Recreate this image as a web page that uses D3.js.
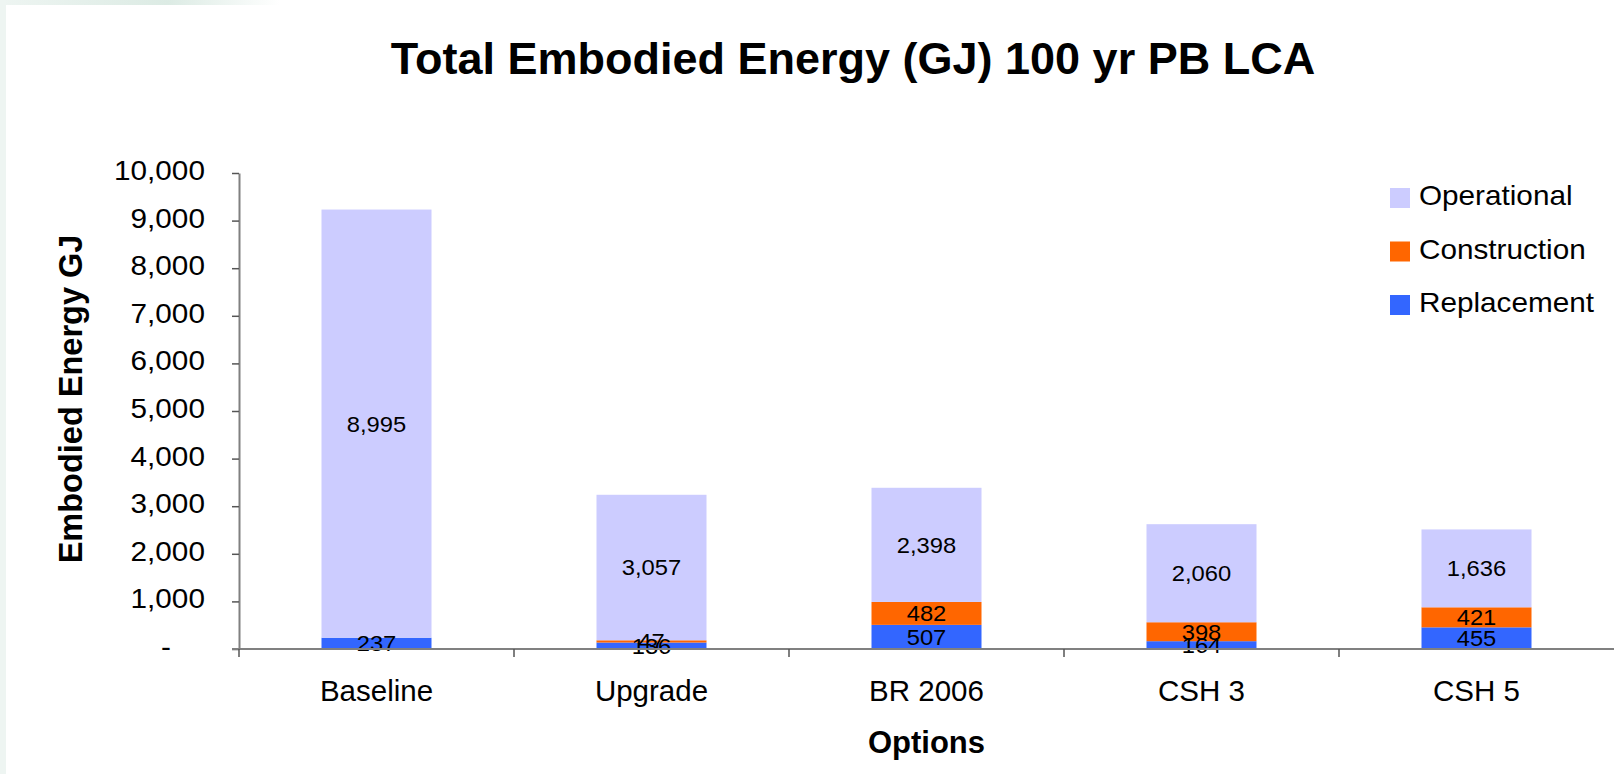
<!DOCTYPE html>
<html>
<head>
<meta charset="utf-8">
<script src="https://cdn.jsdelivr.net/npm/d3@7"></script>
<style>
  body { margin: 0; background: #ffffff; }
  text { font-family: Arial, "Liberation Sans", sans-serif; fill: #000; }
</style>
</head>
<body>
<div id="canvas"></div>
<script>
"use strict"

// chart values
let categories = ["Baseline", "Upgrade", "BR 2006", "CSH 3", "CSH 5"]
let replacement = [237, 136, 507, 164, 455]
let construction = [0, 47, 482, 398, 421]
let operational = [8995, 3057, 2398, 2060, 1636]
let seriesNames = ["Replacement", "Construction", "Operational"]
let seriesColors = ["#3366FF", "#FF6600", "#CCCCFF"]
let yTicks = [0, 1000, 2000, 3000, 4000, 5000, 6000, 7000, 8000, 9000, 10000]

let chartWidth = 1614
let chartHeight = 774

let drawing = d3.select("#canvas")
    .append("svg")
    .attr("width", chartWidth)
    .attr("height", chartHeight)

// faint slide background at the left and top edges
let grad = drawing.append("defs").append("linearGradient")
    .attr("id", "topFade")
grad.append("stop").attr("offset", "0%").attr("stop-color", "#eef5f2")
grad.append("stop").attr("offset", "60%").attr("stop-color", "#dcebe4")
grad.append("stop").attr("offset", "100%").attr("stop-color", "#ffffff")

drawing.append("rect")
    .attr("x", 0).attr("y", 0)
    .attr("width", 280).attr("height", 5)
    .attr("fill", "url(#topFade)")

drawing.append("rect")
    .attr("x", 0).attr("y", 0)
    .attr("width", 6).attr("height", chartHeight)
    .attr("fill", "#eef5f2")

// plot area
let plotLeft = 239, plotRight = 1614, plotTop = 173, plotBottom = 649

let x = d3.scaleBand()
    .domain(categories)
    .range([plotLeft, plotRight])
    .paddingInner(0.6)
    .paddingOuter(0.3)

let y = d3.scaleLinear()
    .domain([0, 10000])
    .range([plotBottom, plotTop])

// build a table for the stack
let table = categories.map((c, i) => ({
    category: c,
    Replacement: replacement[i],
    Construction: construction[i],
    Operational: operational[i]
}))

let stacked = d3.stack().keys(seriesNames)(table)

let color = d3.scaleOrdinal()
    .domain(seriesNames)
    .range(seriesColors)

// bars
let layers = drawing.append("g")
    .selectAll("g")
    .data(stacked)
    .join("g")
    .attr("fill", d => color(d.key))

layers.selectAll("rect")
    .data(d => d)
    .join("rect")
    .attr("x", d => x(d.data.category))
    .attr("y", d => y(d[1]))
    .attr("width", x.bandwidth())
    .attr("height", d => y(d[0]) - y(d[1]))

// data labels in the middle of each segment (they overlap in the original too)
let fmt = d3.format(",")

let labelLayer = drawing.append("g")

labelLayer.selectAll("text")
    .data(stacked.flatMap(s => s.filter(p => p[1] - p[0] > 0)))
    .join("text")
    .attr("text-anchor", "middle")
    .attr("dy", "0.36em")
    .attr("font-size", 22)
    .attr("transform", d => "translate(" + (x(d.data.category) + x.bandwidth() / 2) + "," + y((d[0] + d[1]) / 2) + ") scale(1.08,1)")
    .text(d => fmt(d[1] - d[0]))

// y axis
let yAxis = drawing.append("g")
    .attr("transform", "translate(" + plotLeft + ",0)")
    .call(d3.axisLeft(y)
        .tickValues(yTicks)
        .tickSize(7)
        .tickSizeOuter(0)
        .tickFormat(d => d === 0 ? "-" : fmt(d)))

yAxis.select(".domain")
    .attr("stroke", "#808080")
    .attr("stroke-width", 2)
yAxis.selectAll(".tick line")
    .attr("stroke", "#555")
    .attr("stroke-width", 1.5)
yAxis.selectAll(".tick text")
    .attr("font-size", 27)
    .attr("font-family", "Arial, 'Liberation Sans', sans-serif")
    .attr("fill", "#000")
    .attr("x", d => d === 0 ? -62 : -31)
    .attr("dy", "0.24em")
    .attr("transform", "scale(1.1,1)")

// x axis: line, ticks between categories, labels under bars
let xAxis = drawing.append("g")

xAxis.append("line")
    .attr("x1", plotLeft - 7)
    .attr("x2", plotRight)
    .attr("y1", plotBottom)
    .attr("y2", plotBottom)
    .attr("stroke", "#808080")
    .attr("stroke-width", 2)

let step = x.step()
let boundaries = categories.map(c => x(c) - step * 0.3)

xAxis.selectAll(".sep")
    .data(boundaries)
    .join("line")
    .attr("class", "sep")
    .attr("x1", d => d)
    .attr("x2", d => d)
    .attr("y1", plotBottom)
    .attr("y2", plotBottom + 8)
    .attr("stroke", "#555")
    .attr("stroke-width", 1.5)

xAxis.selectAll(".catLabel")
    .data(categories)
    .join("text")
    .attr("class", "catLabel")
    .attr("x", d => x(d) + x.bandwidth() / 2)
    .attr("y", 701)
    .attr("text-anchor", "middle")
    .attr("font-size", 29.5)
    .text(d => d)

// titles
drawing.append("text")
    .attr("x", 853)
    .attr("y", 74)
    .attr("text-anchor", "middle")
    .attr("font-size", 45)
    .attr("font-weight", "bold")
    .text("Total Embodied Energy (GJ) 100 yr PB LCA")

drawing.append("text")
    .attr("x", (plotLeft + plotRight) / 2)
    .attr("y", 753)
    .attr("text-anchor", "middle")
    .attr("font-size", 31)
    .attr("font-weight", "bold")
    .text("Options")

drawing.append("text")
    .attr("transform", "translate(82,399) rotate(-90)")
    .attr("text-anchor", "middle")
    .attr("font-size", 32.5)
    .attr("font-weight", "bold")
    .text("Embodied Energy GJ")

// legend, Operational on top like the reference
let legendItems = seriesNames.slice().reverse()

let legend = drawing.append("g")
    .selectAll("g")
    .data(legendItems)
    .join("g")
    .attr("transform", (d, i) => "translate(1390," + (188 + i * 53.5) + ")")

legend.append("rect")
    .attr("width", 20)
    .attr("height", 20)
    .attr("fill", d => color(d))

legend.append("text")
    .attr("font-size", 27)
    .attr("transform", "translate(29,17) scale(1.1,1)")
    .text(d => d)
</script>
</body>
</html>
